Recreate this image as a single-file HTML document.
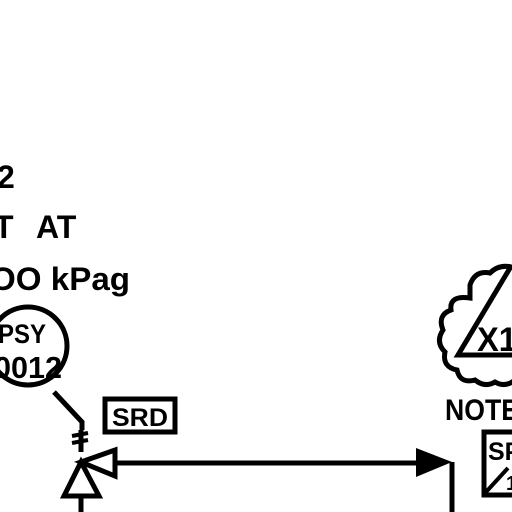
<!DOCTYPE html>
<html><head><style>
html,body{margin:0;padding:0;background:#fff;width:512px;height:512px;overflow:hidden}
svg{display:block}
text{font-family:"Liberation Sans",sans-serif;font-weight:bold;fill:#000}
</style></head><body>
<svg width="512" height="512" viewBox="0 0 512 512" xmlns="http://www.w3.org/2000/svg">
<text x="-3" y="188" font-size="32">2</text>
<text x="-6" y="238" font-size="32">T</text>
<text x="36" y="238" font-size="32">AT</text>
<text x="-10" y="290" font-size="32" textLength="140" lengthAdjust="spacingAndGlyphs">OO kPag</text>
<circle cx="28" cy="346" r="39" fill="none" stroke="#000" stroke-width="5"/>
<text x="-2" y="343" font-size="27" textLength="48" lengthAdjust="spacingAndGlyphs">PSY</text>
<text x="-6" y="378" font-size="31" textLength="68" lengthAdjust="spacingAndGlyphs">0012</text>
<polyline points="54,392 82,422 82,430" fill="none" stroke="#000" stroke-width="5"/>
<line x1="81" y1="430" x2="81" y2="452" stroke="#000" stroke-width="5"/>
<line x1="72" y1="436" x2="88" y2="433" stroke="#000" stroke-width="4"/>
<line x1="72" y1="443" x2="88" y2="440" stroke="#000" stroke-width="4"/>
<polygon points="81,462 115,450 115,476" fill="none" stroke="#000" stroke-width="5"/>
<polygon points="81,462 64,496 99,496" fill="none" stroke="#000" stroke-width="5"/>
<line x1="81" y1="496" x2="81" y2="512" stroke="#000" stroke-width="5"/>
<line x1="115" y1="463" x2="420" y2="463" stroke="#000" stroke-width="5"/>
<polygon points="416,448 452,462 416,477" fill="#000"/>
<line x1="452" y1="462" x2="452" y2="512" stroke="#000" stroke-width="5"/>
<rect x="105" y="399" width="70" height="33" fill="none" stroke="#000" stroke-width="5"/>
<text x="112" y="426" font-size="25" textLength="56" lengthAdjust="spacingAndGlyphs">SRD</text>
<path d="M470,285 q5,-15 20,-12 q10,-10 25,-5 L515,380 q-10,8 -20,2 q-10,6 -20,-2 q-15,4 -18,-10 q-15,-3 -12,-18 q-10,-10 -2,-22 q-6,-15 8,-20 q-2,-15 19,-12 z" fill="none" stroke="#000" stroke-width="5"/>
<polyline points="510,268 458,355 515,355" fill="none" stroke="#000" stroke-width="5"/>
<text x="477" y="351" font-size="34" textLength="40" lengthAdjust="spacingAndGlyphs">X1</text>
<text x="445" y="420" font-size="30" textLength="74" lengthAdjust="spacingAndGlyphs">NOTE</text>
<rect x="484" y="432" width="40" height="63" fill="none" stroke="#000" stroke-width="5"/>
<text x="488" y="460" font-size="25">SP</text>
<line x1="486" y1="492" x2="508" y2="468" stroke="#000" stroke-width="4"/>
<text x="506" y="490" font-size="20">1</text>
</svg>
</body></html>
